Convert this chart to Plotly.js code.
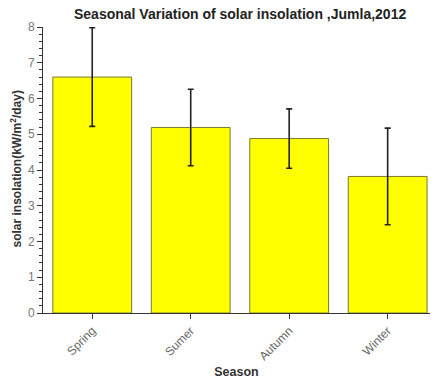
<!DOCTYPE html>
<html><head><meta charset="utf-8">
<script src="https://cdn.plot.ly/plotly-3.0.1.min.js"></script>
<style>html,body{margin:0;padding:0;background:#fff}</style>
</head><body>
<div id="chart" style="width:435px;height:381px"></div>
<script>
const seasons = ["Spring", "Sumer", "Autumn", "Winter"];
const insolation = [6.6, 5.19, 4.88, 3.82];
const stdDev = [1.38, 1.07, 0.83, 1.35];
const yTicks = [0, 1, 2, 3, 4, 5, 6, 7, 8];

const FONT = "Liberation Sans, Arial, sans-serif";

const trace = {
  type: "bar",
  x: seasons,
  y: insolation,
  width: 0.8,
  marker: {color: "#ffff00", line: {color: "#7a7a30", width: 1}},
  error_y: {type: "data", array: stdDev, visible: true, color: "#222", thickness: 1.6, width: 3}
};

const layout = {
  width: 435, height: 381,
  margin: {l: 43, r: 5, t: 27, b: 68},
  paper_bgcolor: "#fff", plot_bgcolor: "#fff",
  showlegend: false,
  title: {text: "<b>Seasonal Variation of solar insolation ,Jumla,2012</b>",
    font: {family: FONT, size: 14, color: "#222"},
    x: 0.552, xanchor: "center", y: 0.962, yanchor: "middle"},
  xaxis: {
    range: [-0.5, 3.43],
    showline: true, linecolor: "#333", linewidth: 1,
    ticks: "outside", ticklen: 5, tickcolor: "#333",
    tickangle: -45, showgrid: false, zeroline: false,
    tickfont: {family: FONT, size: 12, color: "#666"},
    title: {text: "<b>Season</b>", font: {family: FONT, size: 12.5, color: "#333"}, standoff: 5}
  },
  yaxis: {
    range: [0, 8],
    tickvals: yTicks,
    showline: true, linecolor: "#333", linewidth: 1,
    ticks: "outside", ticklen: 5, tickcolor: "#333",
    minor: {ticks: "outside", ticklen: 3, dtick: 0.2, tickcolor: "#333"},
    showgrid: false, zeroline: false,
    tickfont: {family: FONT, size: 12, color: "#777"}
  },
  annotations: [{
    text: "<b>solar insolation(kW/m<sup>2</sup>/day)</b>",
    xref: "paper", yref: "paper", x: -0.07, y: 0.505,
    xanchor: "center", yanchor: "middle", textangle: -90, showarrow: false,
    font: {family: FONT, size: 12, color: "#333"}
  }]
};

Plotly.newPlot("chart", [trace], layout, {displayModeBar: false, staticPlot: true});
</script>
</body></html>
